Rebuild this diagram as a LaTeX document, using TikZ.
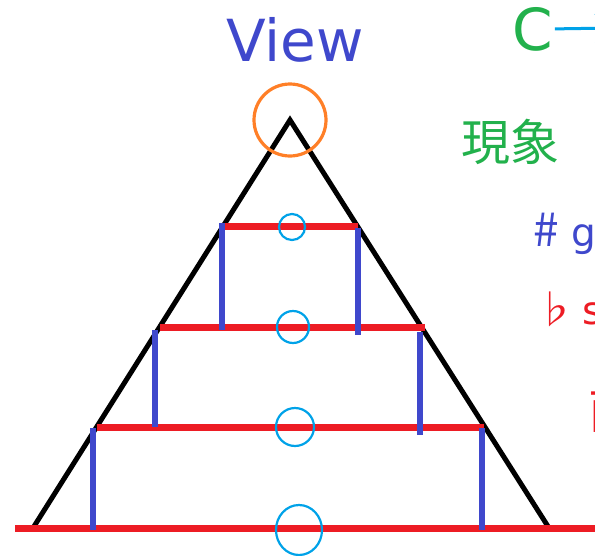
\documentclass[tikz,border=0pt]{standalone}
\usepackage{fontspec}
\setmainfont{DejaVu Sans}
\newfontfamily\jpfont{Noto Sans CJK JP}
\usetikzlibrary{arrows.meta,positioning}
\definecolor{pred}{RGB}{237,28,36}
\definecolor{pblue}{RGB}{63,72,204}
\definecolor{pgreen}{RGB}{34,177,76}
\definecolor{pcyan}{RGB}{0,162,232}
\definecolor{porange}{RGB}{255,127,39}

\begin{document}
\begin{tikzpicture}[x=1pt, y=-1pt,
  tri/.style={draw=black, line width=5pt, line join=miter},
  rung/.style={draw=pred, line width=7pt},
  post/.style={draw=pblue, line width=6pt},
  ring/.style={draw=pcyan, line width=2.2pt},
  top/.style={draw=porange, line width=3.2pt},
  big/.style={font=\fontsize{58}{60}\selectfont, inner sep=0pt},
  side/.style={font=\fontsize{39}{42}\selectfont, inner sep=0pt},
  jp/.style={font=\jpfont\fontsize{49}{52}\selectfont, inner sep=0pt},
  link/.style={draw=pcyan, line width=3pt,
               -{Straight Barb[length=16pt, width=30pt, line width=3pt]}}]

\path[use as bounding box, clip] (0,0) rectangle (595,555);

% outline
\coordinate (apex) at (290,120);
\coordinate (bl) at (33,528);
\coordinate (br) at (549,528);
\draw[tri] (bl) -- (apex) -- (br);

% levels
\draw[rung] (222,226) -- (358,226);
\draw[rung] (160,327) -- (425,327);
\draw[rung] (97,427) -- (484,427);
\draw[rung] (15,528) -- (595,528);

% posts
\draw[post] (222,223) -- (222,330);
\draw[post] (358,228) -- (358,335);
\draw[post] (155,330) -- (155,427);
\draw[post] (420,332) -- (420,435);
\draw[post] (93,428) -- (93,530);
\draw[post] (482,428) -- (482,530);

% marks
\draw[ring] (292,227) circle[radius=13pt];
\draw[ring] (293,327) circle[radius=16pt];
\draw[ring] (295,427) circle[radius=19pt];
\draw[ring] (299,530) ellipse[x radius=23pt, y radius=25pt];
\draw[top] (apex) circle[radius=36pt];

% texts
\node[big, text=pblue, anchor=base] (view) at (295,61) {View};
\node[big, text=pgreen, anchor=base west] (cnode) at (512,50) {C};
\coordinate (cend) at (614,28);
\draw[link] (cnode.east) ++(2,0) -- (cend);
\node[jp, text=pgreen, anchor=base west] (gen) at (461,160) {現象};
\node[side, text=pblue, anchor=base west] (sharp) at (533,246)
  {{\jpfont\fontsize{46}{48}\selectfont\#} g};
\node[side, text=pred, anchor=base west] (flat) at (535,324)
  {\rlap{\jpfont\fontsize{40}{42}\selectfont ♭}\hspace{47pt}s};
\node[jp, text=pred, anchor=base west] (nao) at (588,428) {直};
\end{tikzpicture}
\end{document}
